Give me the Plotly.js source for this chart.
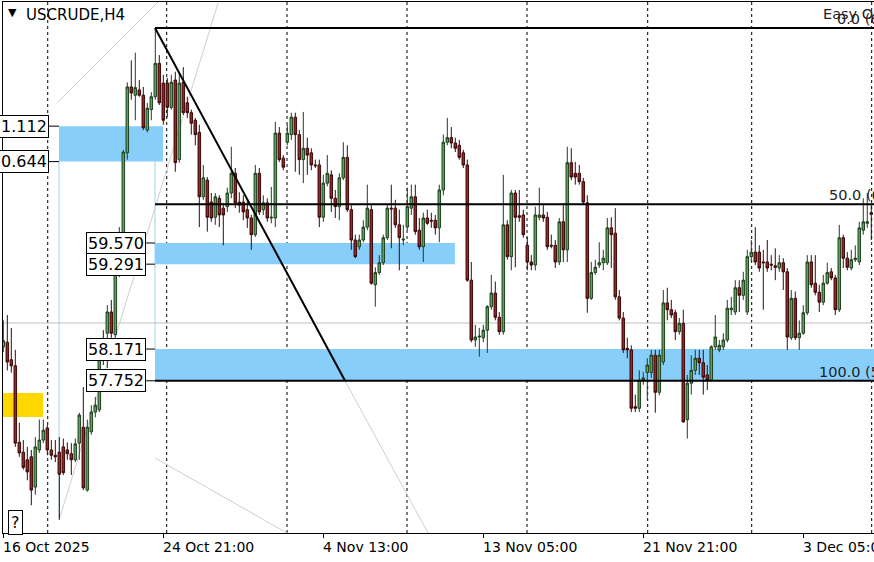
<!DOCTYPE html>
<html><head><meta charset="utf-8">
<script src="https://cdn.plot.ly/plotly-3.0.1.min.js"></script>
<style>html,body{margin:0;padding:0;background:#fff;overflow:hidden}#chart{width:874px;height:562px}</style>
</head><body><div id="chart"></div>
<script>
// ---- OHLC data (USCRUDE, H4), bar index 0..217 ----
const openP = [58.20,58.26,58.03,57.95,56.94,56.81,56.71,56.75,56.35,56.84,
56.97,57.13,56.84,56.77,56.81,56.88,56.84,56.79,56.71,56.93,
57.14,56.31,57.08,57.34,57.37,58.26,58.38,58.66,58.36,59.35,
59.70,60.76,61.63,61.52,61.59,61.52,61.06,61.33,61.50,61.94,
61.68,61.68,61.36,61.72,60.67,61.69,61.42,61.29,61.19,61.03,
60.18,60.40,60.11,59.91,60.16,60.03,60.05,60.23,60.49,60.11,
60.11,60.01,59.90,59.68,60.49,60.01,60.10,59.90,59.90,61.02,
60.69,60.90,61.00,61.23,61.00,60.67,60.82,60.76,60.60,60.60,
59.91,60.36,60.47,60.16,60.05,60.43,60.70,60.01,59.61,59.52,
59.61,59.78,60.01,59.02,59.18,59.31,59.64,60.03,60.03,59.81,
59.61,59.78,60.03,60.18,59.74,59.52,59.90,59.87,59.87,59.77,
60.27,60.90,60.96,60.89,60.86,60.76,60.60,59.08,58.29,58.33,
58.32,58.42,58.73,58.91,58.59,58.40,59.81,59.39,60.23,59.93,
59.94,59.54,59.32,59.28,59.91,59.94,59.91,59.54,59.54,59.32,
59.85,59.48,60.63,60.49,60.49,60.38,60.10,58.84,59.18,59.28,
59.31,59.31,59.77,59.70,58.86,58.58,58.18,58.16,57.41,57.39,
57.76,57.86,57.86,58.09,57.60,58.00,58.78,58.69,58.65,58.40,
58.51,57.24,57.72,57.89,58.05,57.99,57.83,57.76,58.20,58.16,
58.20,58.29,58.69,58.66,58.98,58.88,58.66,59.39,59.45,59.45,
59.32,59.32,59.29,59.27,59.24,59.31,59.19,58.32,58.84,58.32,
58.38,58.65,59.32,59.04,58.92,58.79,59.04,59.19,59.11,58.69,
59.64,59.37,59.24,59.35,59.32,59.74,59.83,59.97];
const highP = [58.55,58.62,58.45,58.16,57.20,56.97,56.88,56.84,57.01,57.24,
57.24,57.17,56.97,56.97,57.01,56.99,56.94,56.93,56.99,57.33,
57.67,57.24,57.43,57.54,58.22,58.42,58.75,58.82,59.32,59.78,
60.80,61.69,61.98,62.08,61.72,61.63,61.42,61.56,62.41,62.05,
61.79,61.75,61.79,61.83,61.81,61.89,61.50,61.33,61.22,61.13,
60.60,60.44,60.23,60.23,60.20,60.10,60.30,60.84,60.56,60.24,
60.20,60.14,59.94,60.60,60.56,60.20,60.16,60.31,61.17,61.10,
60.73,61.13,61.29,61.29,61.06,61.30,60.96,60.82,60.67,60.67,
60.47,60.73,60.53,60.27,60.49,60.90,60.86,60.07,59.68,59.68,
59.87,60.34,60.07,59.25,59.41,59.68,60.07,60.34,60.14,60.01,
59.81,60.30,60.34,60.34,59.90,59.97,60.01,59.97,59.94,60.34,
61.00,61.22,61.10,60.96,60.93,60.80,60.67,59.32,58.49,58.45,
58.49,58.75,59.15,59.06,58.66,60.47,59.87,60.27,60.27,60.27,
60.01,59.65,59.41,60.05,60.30,60.07,59.98,59.68,59.61,59.90,
60.10,60.84,60.82,60.64,60.60,60.43,60.20,59.32,59.35,59.58,
59.48,59.90,59.91,60.03,58.95,58.66,58.32,58.22,57.57,57.89,
57.87,58.05,58.16,58.16,58.16,58.95,58.98,58.82,58.69,58.58,
58.69,57.83,58.09,58.16,58.16,58.16,57.96,58.22,58.62,58.29,
58.38,58.82,58.86,59.08,59.08,59.19,59.48,59.61,59.78,59.54,
59.48,59.61,59.41,59.50,59.41,59.37,59.24,58.95,58.93,58.55,
58.75,59.41,59.41,59.41,59.02,59.15,59.31,59.24,59.15,59.81,
59.68,59.45,59.48,59.54,59.85,60.16,60.23,60.07];
const lowP = [58.13,57.89,57.86,56.88,56.75,56.58,56.44,56.11,56.25,56.80,
56.93,56.77,56.71,56.68,55.92,56.51,56.71,56.51,56.68,56.71,
56.31,56.29,57.04,57.27,57.34,57.96,57.92,58.32,58.32,59.12,
59.61,60.67,61.46,61.19,61.50,61.06,61.03,61.19,61.46,61.39,
61.13,61.23,61.33,60.51,60.63,61.26,61.22,61.00,60.86,59.78,
60.14,59.72,59.85,59.81,59.78,59.54,59.98,60.16,60.03,59.97,
59.87,59.77,59.48,59.65,59.94,59.94,59.85,59.83,59.78,60.64,
60.53,60.86,60.93,60.51,60.47,60.36,60.47,60.53,60.56,59.78,
59.85,60.32,59.98,59.90,59.87,60.40,59.98,59.48,59.37,59.48,
59.58,59.74,59.02,58.73,59.15,59.28,59.61,59.50,59.77,59.21,
59.54,59.74,59.94,59.68,59.48,59.32,59.81,59.77,59.68,59.58,
60.20,60.86,60.82,60.77,60.67,60.56,59.06,58.26,58.20,58.07,
58.26,58.12,58.69,58.55,58.36,58.36,59.35,59.21,59.25,59.85,
59.64,59.21,59.21,59.21,59.87,59.85,59.48,59.50,59.24,59.28,
59.32,59.32,60.40,60.34,60.34,60.07,58.65,58.82,59.15,59.24,
59.21,59.28,59.24,58.82,58.55,58.12,58.05,57.34,57.34,57.34,
57.70,57.50,57.79,57.33,57.56,57.96,58.55,58.58,58.29,58.36,
57.20,56.99,57.57,57.83,57.83,57.57,57.63,57.74,58.16,58.13,
58.16,58.26,58.62,58.62,58.66,58.82,58.62,59.32,59.28,59.19,
58.69,59.19,59.21,59.08,59.19,58.95,58.16,58.29,58.29,58.16,
58.36,58.62,58.98,58.88,58.66,58.75,59.02,59.08,58.62,58.66,
59.24,59.21,59.21,59.32,59.28,59.68,59.77,59.61];
const closeP = [58.28,58.00,57.95,56.93,56.80,56.61,56.55,56.31,56.88,56.97,
57.10,56.84,56.77,56.75,56.52,56.54,56.79,56.71,56.92,57.30,
56.34,57.14,57.34,57.43,58.13,58.09,58.66,58.38,59.21,59.70,
60.77,61.63,61.55,61.62,61.52,61.09,61.35,61.50,61.94,61.42,
61.19,61.36,61.69,60.63,61.68,61.29,61.29,61.15,61.00,60.18,
60.43,59.91,59.90,60.18,59.94,59.94,60.23,60.49,60.10,60.07,
59.98,59.90,59.68,60.49,59.98,60.10,59.90,59.91,61.02,60.67,
60.57,61.02,61.23,61.00,60.67,60.82,60.73,60.60,60.59,59.91,
60.36,60.49,60.16,60.05,60.43,60.70,60.01,59.61,59.39,59.61,
59.78,60.03,59.04,59.18,59.31,59.64,60.03,60.02,59.81,59.64,
59.62,60.05,60.18,59.72,59.52,59.90,59.83,59.86,59.77,60.27,
60.90,60.96,60.89,60.82,60.70,60.60,59.08,58.29,58.33,58.34,
58.42,58.73,58.91,58.59,58.40,59.81,59.39,60.23,59.91,59.91,
59.68,59.32,59.28,59.94,59.94,59.90,59.52,59.53,59.32,59.85,
59.48,60.63,60.44,60.44,60.38,60.11,58.84,59.18,59.25,59.31,
59.37,59.77,59.68,58.86,58.58,58.16,58.16,57.39,57.39,57.76,
57.79,57.96,58.09,57.60,58.09,58.78,58.69,58.62,58.40,58.51,
57.21,57.72,57.89,58.05,57.99,57.80,57.76,58.20,58.33,58.22,
58.29,58.71,58.71,58.98,58.88,59.08,59.39,59.45,59.32,59.24,
59.31,59.24,59.28,59.25,59.31,59.19,58.33,58.84,58.32,58.38,
58.65,59.32,59.02,58.92,58.79,59.04,59.18,59.11,58.69,59.64,
59.37,59.25,59.35,59.37,59.77,59.85,59.85,59.95];

// ---- axis labels ----
const tickBars = [0, 40, 80, 120, 160, 200];
const tickText = ['16 Oct 2025', '24 Oct 21:00', '4 Nov 13:00', '13 Nov 05:00', '21 Nov 21:00', '3 Dec 05:00'];
const gridBars = [11.1, 40.85, 70.93, 100.93, 130.93, 161.1, 187.1, 217.1];

// ---- drawing objects ----
const fibLevels = [62.407, 60.080, 57.752];
const fibText = ['0.0 (62.407)', '50.0 (60.080)', '100.0 (57.752)'];
const zoneLevels = [[60.644, 61.112], [59.291, 59.570], [57.752, 58.171]];
const boxLevels = [61.112, 60.644, 59.570, 59.291, 58.171, 57.752];
const boxText = ['1.112', '0.644', '59.570', '59.291', '58.171', '57.752'];

const bars = openP.map((_, i) => i);
const FONT = 'DejaVu Sans, Verdana, sans-serif';
const W = 871, H = 531, L0 = 3, T0 = 2;
function pa(px, py, text, o) {
  return Object.assign({xref:'paper', yref:'paper', x:(px-L0)/W, y:1-(py-T0)/H,
    text:text, showarrow:false, font:{family:FONT, size:14, color:'#000'}}, o||{});
}

const trace = {
  type:'candlestick', x:bars, open:openP, high:highP, low:lowP, close:closeP,
  increasing:{line:{color:'#1f3f1f', width:1}, fillcolor:'#5aa35a'},
  decreasing:{line:{color:'#3a0a0a', width:1}, fillcolor:'#9a2323'},
  whiskerwidth:0, hoverinfo:'skip'
};

const shapes = [];
const lineS = (x0,y0,x1,y1,color,width,extra) => Object.assign({type:'line',xref:'x',yref:'y',x0,y0,x1,y1,line:{color,width}},extra||{});
// zones (background)
shapes.push({type:'rect',xref:'x',yref:'y',x0:13.93,x1:39.93,y0:zoneLevels[0][0],y1:zoneLevels[0][1],fillcolor:'#87cefa',line:{width:0},layer:'below'});
shapes.push({type:'rect',xref:'x',yref:'y',x0:37.93,x1:112.9,y0:zoneLevels[1][0],y1:zoneLevels[1][1],fillcolor:'#87cefa',line:{width:0},layer:'below'});
shapes.push({type:'rect',xref:'x',yref:'y',x0:37.93,x1:219,y0:zoneLevels[2][0],y1:zoneLevels[2][1],fillcolor:'#87cefa',line:{width:0},layer:'below'});
shapes.push({type:'rect',xref:'x',yref:'y',x0:-1,x1:9.93,y0:57.275,y1:57.591,fillcolor:'#ffd700',line:{width:0},layer:'below'});
// thin zone borders
shapes.push(lineS(13.93,60.644,13.93,55.92,'#9fd3f5',1,{layer:'below'}));
shapes.push(lineS(37.93,60.644,37.93,58.171,'#9fd3f5',1,{layer:'below'}));
// gray helper lines
shapes.push(lineS(-1,58.515,219,58.515,'#c0c0c0',1,{layer:'below'}));
shapes.push(lineS(13.93,55.915,53.68,62.736,'#cfcfcf',1,{layer:'below'}));
shapes.push(lineS(13.68,61.43,38.68,62.75,'#cfcfcf',1,{layer:'below'}));
shapes.push(lineS(37.93,56.734,70.93,55.744,'#cfcfcf',1,{layer:'below'}));
shapes.push(lineS(85.43,57.752,106.18,55.744,'#cfcfcf',1,{layer:'below'}));
// dashed grid
gridBars.forEach(g => shapes.push({type:'line',xref:'x',yref:'paper',x0:g,x1:g,y0:0,y1:1,line:{color:'#000',width:1,dash:'3px,3px'},layer:'below'}));
// fib lines and trend line
fibLevels.forEach(f => shapes.push(lineS(37.93,f,219,f,'#000',2)));
shapes.push(lineS(37.93,fibLevels[0],85.43,fibLevels[2],'#000',2));
// box connectors
shapes.push(lineS(11.43,boxLevels[0],13.93,boxLevels[0],'#000',1));
shapes.push(lineS(11.43,boxLevels[1],13.93,boxLevels[1],'#000',1));
for (let k=2;k<6;k++) shapes.push(lineS(35.68,boxLevels[k],37.93,boxLevels[k],'#000',1));

const ann = [];
tickBars.forEach((b,k) => ann.push({xref:'x', yref:'paper', x:b, y:0, xanchor:'left', yanchor:'top', yshift:-4, xshift:-2,
  text:tickText[k], showarrow:false, font:{family:FONT, size:14, color:'#000'}}));
boxLevels.forEach((v,k) => ann.push({xref:'x', yref:'y', x: k<2 ? 11.43 : 35.68, y:v, xanchor:'right', yanchor:'middle',
  text:boxText[k], showarrow:false, bgcolor:'#fff', bordercolor:'#000', borderwidth:1, borderpad:1,
  font:{family:FONT, size:16, color:'#000'}}));
const fibX = [208.0, 206.0, 203.5];
fibLevels.forEach((f,k) => ann.push({xref:'x', yref:'y', x:fibX[k], y:f, xanchor:'left', yanchor:'bottom', yshift:-1,
  text:fibText[k], showarrow:false, font:{family:FONT, size:14.5, color:'#222'}}));
ann.push(pa(821, 14, 'Easy Orders', {xanchor:'left', yanchor:'middle', font:{family:FONT, size:14.5, color:'#222'}}));
ann.push(pa(12, 13, '▼', {xanchor:'center', yanchor:'middle', font:{family:FONT, size:11, color:'#000'}}));
ann.push(pa(24, 15, 'USCRUDE,H4', {xanchor:'left', yanchor:'middle', font:{family:FONT, size:15, color:'#000'}}));
ann.push(pa(15, 522, '?', {xanchor:'center', yanchor:'middle', bgcolor:'#fff', bordercolor:'#000', borderwidth:1, borderpad:2, font:{family:FONT, size:16, color:'#000'}}));

const layout = {
  width:874, height:562, margin:{l:3, r:0, t:2, b:29, pad:0},
  paper_bgcolor:'#fff', plot_bgcolor:'#fff', showlegend:false,
  xaxis:{range:[-0.08,217.68], showgrid:false, zeroline:false, showline:true, linecolor:'#000', linewidth:1, mirror:true,
    ticks:'outside', ticklen:4, tickcolor:'#000', tickmode:'array', tickvals:tickBars, showticklabels:false,
    rangeslider:{visible:false}, fixedrange:true},
  yaxis:{range:[55.744,62.750], showgrid:false, zeroline:false, showline:true, linecolor:'#000', linewidth:1,
    showticklabels:false, ticks:'', fixedrange:true},
  boxgap:0.1,
  shapes:shapes, annotations:ann
};
Plotly.newPlot('chart', [trace], layout, {staticPlot:true, displayModeBar:false});
</script></body></html>
